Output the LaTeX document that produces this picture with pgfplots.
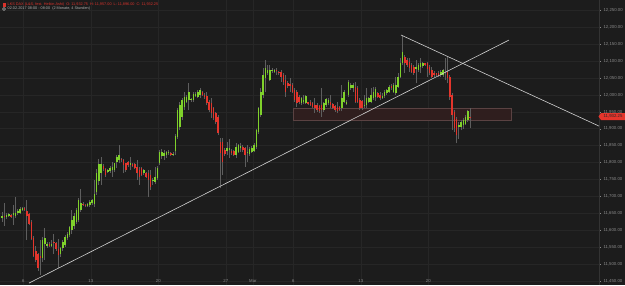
\documentclass[border=0pt]{standalone}
\usepackage{fontspec}
\setmainfont{Liberation Sans}
\usepackage{pgfplots}
\usepackage{pgfplotstable}
\pgfplotsset{compat=1.18}
\definecolor{bg}{HTML}{1C1C1C}
\definecolor{gridc}{HTML}{262626}
\definecolor{axc}{HTML}{333333}
\definecolor{upc}{HTML}{7FD12B}
\definecolor{dnc}{HTML}{E4352C}
\definecolor{wickc}{HTML}{5E5E5E}
\definecolor{labc}{HTML}{8A8A8A}
\definecolor{linec}{HTML}{D0D0D0}
\definecolor{zonef}{HTML}{2F1E1E}
\definecolor{zoned}{HTML}{5A4242}
\definecolor{hdrred}{HTML}{D8322B}
\definecolor{hdrgray}{HTML}{B0B0B0}

\pgfplotstableread{
i o h l c
0 11637 11655 11625 11643
2 11639 11650 11632 11646
3 11643 11652 11640 11647
5 11646 11675 11616 11650
6 11643 11697 11636 11652
7 11650 11662 11645 11656
8 11652 11668 11648 11663
9 11660 11670 11656 11665
18 11518 11580 11505 11570
19 11560 11606 11513 11578
20 11555 11565 11548 11559
22 11554 11570 11550 11560
26 11530 11550 11522 11547
27 11547 11570 11540 11566
28 11556 11585 11550 11580
29 11578 11595 11572 11590
30 11585 11612 11580 11609
31 11601 11660 11590 11630
32 11613 11650 11605 11642
33 11625 11665 11620 11660
34 11630 11694 11625 11688
35 11660 11721 11655 11682
38 11672 11680 11668 11677
39 11675 11688 11670 11685
40 11680 11692 11676 11689
41 11678 11748 11668 11708
42 11712 11780 11705 11770
43 11745 11812 11735 11795
44 11770 11817 11735 11796
47 11772 11782 11768 11778
48 11775 11790 11770 11783
49 11778 11803 11758 11788
50 11778 11800 11772 11798
51 11802 11822 11783 11817
52 11808 11852 11798 11822
57 11794 11817 11778 11798
63 11768 11782 11763 11778
67 11745 11755 11735 11750
68 11743 11788 11736 11758
69 11753 11790 11748 11783
70 11798 11838 11793 11832
71 11818 11840 11812 11832
72 11820 11836 11808 11828
73 11822 11835 11815 11830
74 11827 11836 11822 11831
76 11821 11830 11818 11825
77 11833 11884 11822 11880
78 11876 11960 11870 11955
79 11905 11980 11895 11970
80 11935 11990 11925 11985
81 11965 12009 11955 11995
82 11980 12000 11975 11993
83 11985 12034 11955 12009
84 11985 11992 11980 11989
85 11985 12009 11980 12004
86 11998 12010 11995 12002
87 11995 12015 11990 12010
88 12000 12020 11990 12015
100 11835 11862 11823 11842
101 11836 11870 11813 11843
104 11823 11857 11813 11847
105 11832 11856 11828 11852
106 11842 11857 11832 11850
109 11828 11852 11803 11832
110 11825 11845 11820 11839
111 11832 11848 11828 11842
112 11835 11858 11830 11852
113 11847 11900 11840 11896
114 11891 11965 11885 11960
115 11941 12020 11936 12010
116 12000 12079 11990 12059
117 12049 12103 12010 12079
118 12064 12088 12059 12074
119 12044 12088 12040 12074
120 12070 12080 12065 12074
121 12069 12078 12064 12074
133 11975 11995 11970 11990
134 11978 12000 11972 11985
135 11975 12000 11972 11997
143 11955 11980 11950 11975
144 11970 11992 11965 11987
145 11975 11990 11970 11985
151 11960 12029 11951 11990
152 11980 12015 11975 12010
153 11974 11985 11970 11978
154 12000 12044 11995 12039
155 12020 12035 12015 12029
156 12020 12035 12010 12029
161 11966 12000 11960 11970
162 11970 12020 11960 11990
163 11980 11995 11975 11990
164 11980 12020 11975 12000
165 11990 12024 11985 12010
166 11995 12024 11982 12018
169 11992 12005 11988 11998
170 11998 12014 11990 12010
171 12005 12018 12000 12014
172 12010 12030 12005 12024
174 12010 12034 12005 12029
175 12005 12054 12000 12029
176 12024 12064 12020 12054
177 12054 12108 12049 12093
178 12093 12177 12088 12128
184 12078 12103 12034 12082
185 12074 12093 12069 12088
186 12083 12108 12064 12093
187 12084 12098 12080 12093
195 12059 12074 12054 12069
196 12059 12078 12054 12074
203 11906 11920 11870 11912
204 11906 11926 11895 11921
205 11911 11931 11900 11926
206 11915 11941 11910 11936
207 11926 11955 11920 11951
}\greentab

\pgfplotstableread{
i o h l c
1 11643 11680 11614 11640
4 11645 11648 11636 11640
10 11665 11668 11658 11661
11 11657 11688 11572 11642
12 11647 11650 11615 11620
13 11625 11630 11570 11575
14 11578 11583 11520 11525
15 11540 11555 11505 11512
16 11530 11533 11480 11488
17 11525 11572 11468 11519
21 11560 11566 11550 11553
23 11565 11590 11530 11561
24 11562 11566 11540 11545
25 11546 11575 11488 11527
36 11679 11683 11672 11676
37 11676 11678 11668 11672
45 11790 11795 11775 11780
46 11780 11785 11758 11763
53 11812 11815 11803 11808
54 11808 11812 11768 11793
55 11798 11800 11772 11778
56 11802 11805 11788 11792
58 11795 11800 11786 11790
59 11796 11799 11780 11783
60 11788 11808 11748 11768
61 11778 11788 11734 11758
62 11783 11787 11760 11763
64 11768 11773 11753 11758
65 11768 11778 11699 11748
66 11763 11778 11719 11729
75 11827 11830 11818 11822
89 12008 12012 11997 12000
90 12000 12005 11988 11993
91 11998 12010 11970 11975
92 11980 11985 11950 11955
93 11975 11990 11931 11946
94 11960 11965 11925 11931
95 11946 11950 11915 11921
96 11936 11940 11882 11887
97 11862 11872 11724 11828
98 11862 11872 11763 11803
99 11837 11842 11820 11825
102 11835 11840 11822 11827
103 11833 11838 11818 11823
107 11847 11852 11830 11837
108 11842 11847 11788 11823
122 12074 12079 12059 12070
123 12069 12072 12060 12064
124 12069 12074 12039 12054
125 12059 12064 12030 12039
126 12044 12059 11995 12010
127 12034 12040 12020 12025
128 12032 12049 12010 12027
129 12029 12035 12005 12010
130 12015 12020 11980 11985
131 12010 12015 11965 11975
132 11995 12000 11972 11980
136 11978 11980 11970 11974
137 11980 11985 11966 11970
138 11975 11980 11960 11965
139 11970 11990 11946 11960
140 11970 11975 11950 11955
141 11966 11970 11946 11951
142 11970 12020 11936 11955
146 11980 12000 11960 11970
147 11972 11976 11958 11962
148 11968 11970 11950 11955
149 11965 11980 11946 11952
150 11965 11966 11953 11955
157 12024 12039 11975 11980
158 12020 12025 11975 11980
159 11985 11990 11955 11960
160 11982 11985 11955 11962
167 12005 12010 11990 11995
168 12000 12010 11985 11990
173 12027 12032 12015 12020
179 12113 12118 12064 12093
180 12103 12108 12083 12088
181 12098 12108 12069 12079
182 12088 12093 12064 12069
183 12083 12088 12059 12064
188 12093 12095 12085 12089
189 12093 12098 12054 12078
190 12083 12088 12060 12064
191 12074 12083 12050 12054
192 12066 12070 12054 12059
193 12064 12066 12056 12060
194 12066 12070 12052 12056
197 12069 12108 12044 12064
198 12069 12113 12034 12049
199 12054 12059 11985 11995
200 12000 12005 11896 11941
201 11950 11955 11890 11901
202 11930 11935 11857 11882
208 11936 11960 11901 11932
}\redtab

\begin{document}
\begin{tikzpicture}
\path[use as bounding box, fill=bg] (0,0) rectangle (625pt,285pt);
\begin{axis}[
  at={(0pt,0pt)}, anchor=south west,
  scale only axis, width=599pt, height=285pt,
  xmin=-0.889, xmax=265.333, ymin=11438.3, ymax=12280.4,
  axis y line*=right, axis x line*=bottom,
  x axis line style={draw=none},
  y axis line style={draw=axc, line width=0.6pt},
  scaled y ticks=false,
  ytick={11450,11500,...,12250},
  yticklabel={\pgfmathprintnumber[fixed,fixed zerofill,precision=2,1000 sep={,},assume math mode=true]{\tick}},
  xtick={9.5,39.5,69.5,99.5,111.5,129.5,159.5,189.5},
  xticklabels={6,13,20,27,Mar,6,13,20},
  grid=major, major grid style={draw=gridc, line width=0.5pt},
  xtick style={draw=none},
  ytick style={draw=labc, line width=0.4pt},
  tick align=outside, major tick length=2pt,
  yticklabel style={font=\fontsize{4.3}{5}\selectfont, text=labc, anchor=west, xshift=-1pt},
  xticklabel style={font=\fontsize{4.3}{5}\selectfont, text=labc, anchor=south, yshift=1pt},
  clip=true,
]
\addplot[fill=zonef, draw=zoned, line width=0.5pt] coordinates {(129.3,11923.7) (226.5,11923.7) (226.5,11960.4) (129.3,11960.4)} -- cycle;

\addplot[draw=none, mark=none, error bars/.cd, y dir=plus, y explicit, error mark=none,
  error bar style={draw=wickc, line width=0.6pt}]
  table[x=i, y=l, y error expr=\thisrow{h}-\thisrow{l}] {\greentab};
\addplot[draw=none, mark=none, error bars/.cd, y dir=plus, y explicit, error mark=none,
  error bar style={draw=wickc, line width=0.6pt}]
  table[x=i, y=l, y error expr=\thisrow{h}-\thisrow{l}] {\redtab};

\addplot[draw=none, mark=none, error bars/.cd, y dir=plus, y explicit, error mark=none,
  error bar style={draw=upc, line width=1.5pt}]
  table[x=i, y=o, y error expr=\thisrow{c}-\thisrow{o}] {\greentab};
\addplot[draw=none, mark=none, error bars/.cd, y dir=plus, y explicit, error mark=none,
  error bar style={draw=dnc, line width=1.5pt}]
  table[x=i, y=c, y error expr=\thisrow{o}-\thisrow{c}] {\redtab};

\addplot[linec, line width=0.6pt] coordinates {(12,11444) (225.3,12162)};
\addplot[linec, line width=0.6pt] coordinates {(177.3,12177) (265.3,11908)};
\end{axis}

% price tag
\fill[dnc] (598.5pt,168.5pt) -- (601pt,172pt) -- (625pt,172pt) -- (625pt,165pt) -- (601pt,165pt) -- cycle;
\node[inner sep=0, font=\fontsize{4.3}{5}\selectfont, text=black!85] at (613pt,168.5pt) {11,932.25};

% header
\fill[hdrred] (2.5pt,278.5pt) rectangle (5.5pt,282pt);
\node[anchor=west, inner sep=0, font=\fontsize{3.8}{4.5}\selectfont, text=hdrred] at (7.5pt,280.3pt)
  {LKS DAX (L\&S, fest. Heikin Ashi)\ \ O: 11,932.75\ \ H: 11,957.00\ \ L: 11,896.00\ \ C: 11,932.25};
\draw[hdrgray, line width=0.4pt] (4pt,276pt) circle (1.5pt);
\node[anchor=west, inner sep=0, font=\fontsize{3.8}{4.5}\selectfont, text=hdrgray] at (7.5pt,276pt)
  {02.02.2017 08:00 - 08:00\ \ (2 Monate, 4 Stunden)};
\end{tikzpicture}
\end{document}
